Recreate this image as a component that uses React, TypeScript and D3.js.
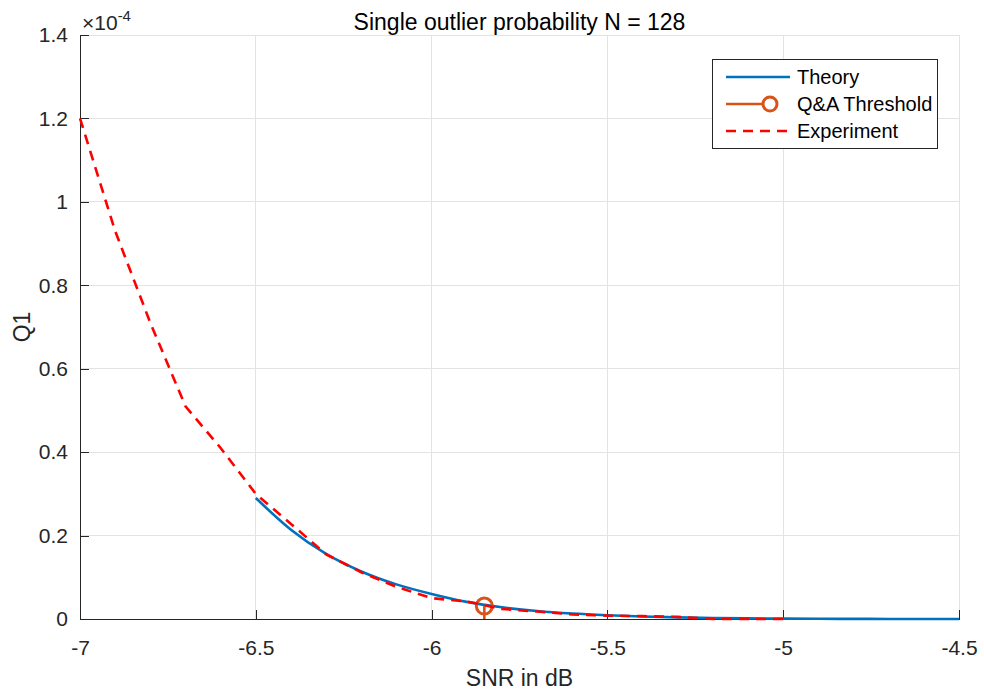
import React, { useRef, useEffect } from 'react';
import * as d3 from 'd3';

// SNR grid (dB) and Q1 values
const theorySnr = [-6.5, -6.4, -6.3, -6.2, -6.1, -6.0, -5.9, -5.8, -5.7, -5.6, -5.5, -5.4, -5.3, -5.2, -5.1, -5.0, -4.9, -4.8, -4.7, -4.6, -4.5];
const theoryQ1 = [0.290e-4, 0.214e-4, 0.156e-4, 0.114e-4, 0.083e-4, 0.060e-4, 0.041e-4, 0.028e-4, 0.019e-4, 0.013e-4, 0.009e-4, 0.006e-4, 0.004e-4, 0.0025e-4, 0.0015e-4, 0.0009e-4, 0.0005e-4, 0.0003e-4, 0.00015e-4, 0.0001e-4, 0.00005e-4];

const expSnr = [-7.0, -6.9, -6.8, -6.7, -6.6, -6.5, -6.4, -6.3, -6.2, -6.1, -6.0, -5.9, -5.8, -5.7, -5.6, -5.5, -5.4, -5.3, -5.2, -5.1, -5.0];
const expQ1 = [1.20e-4, 0.93e-4, 0.71e-4, 0.51e-4, 0.41e-4, 0.30e-4, 0.228e-4, 0.155e-4, 0.112e-4, 0.077e-4, 0.050e-4, 0.042e-4, 0.024e-4, 0.018e-4, 0.011e-4, 0.008e-4, 0.007e-4, 0.005e-4, 0.0e-4, 0.0e-4, 0.0e-4];

const thresholdSnr = [-5.85];
const thresholdQ1 = [0.031e-4];

const xTicks = [-7, -6.5, -6, -5.5, -5, -4.5];
const yTicks = [0, 0.2e-4, 0.4e-4, 0.6e-4, 0.8e-4, 1.0e-4, 1.2e-4, 1.4e-4];

const legendLabels = ['Theory', 'Q&A Threshold', 'Experiment'];

const BLUE = '#0072BD';
const ORANGE = '#D95319';
const RED = '#FF0000';
const AXIS = '#262626';
const FONT = '"Liberation Sans", Arial, Helvetica, sans-serif';

const W = 984;
const H = 691;

const App = () => {
    const svgRef = useRef<SVGSVGElement>(null);

    useEffect(() => {
        const svg = d3.select(svgRef.current);
        svg.selectAll('*').remove();

        const margin = { top: 35, right: 25, bottom: 72, left: 80 };
        const width = W - margin.left - margin.right;
        const height = H - margin.top - margin.bottom;

        const x = d3.scaleLinear().domain([-7, -4.5]).range([0, width]);
        const y = d3.scaleLinear().domain([0, 1.4e-4]).range([height, 0]);

        svg.append('rect').attr('width', W).attr('height', H).attr('fill', '#fff');

        const chart = svg.append('g').attr('transform', `translate(${margin.left},${margin.top})`);

        // grid
        chart.append('g')
            .selectAll('line')
            .data(xTicks)
            .join('line')
            .attr('x1', d => x(d)).attr('x2', d => x(d))
            .attr('y1', 0).attr('y2', height)
            .attr('stroke', '#e3e3e3')
            .attr('shape-rendering', 'crispEdges');
        chart.append('g')
            .selectAll('line')
            .data(yTicks)
            .join('line')
            .attr('x1', 0).attr('x2', width)
            .attr('y1', d => y(d)).attr('y2', d => y(d))
            .attr('stroke', '#e3e3e3')
            .attr('shape-rendering', 'crispEdges');

        // axes (ticks pointing inward)
        const xAxis = chart.append('g')
            .attr('transform', `translate(0,${height})`)
            .call(d3.axisBottom(x).tickValues(xTicks).tickFormat(d => String(d)).tickSizeInner(-9).tickSizeOuter(0).tickPadding(20));
        const yAxis = chart.append('g')
            .call(d3.axisLeft(y).tickValues(yTicks).tickFormat(d => String(+((d as number) * 1e4).toFixed(1))).tickSizeInner(-9).tickSizeOuter(0).tickPadding(20));
        [xAxis, yAxis].forEach(a => {
            a.select('.domain').attr('stroke', AXIS).attr('shape-rendering', 'crispEdges');
            a.selectAll('.tick line').attr('stroke', AXIS).attr('shape-rendering', 'crispEdges');
            a.selectAll('.tick text').attr('fill', AXIS).attr('font-size', '21px').attr('font-family', FONT);
        });
        yAxis.selectAll('.tick text').attr('dx', '8');
        xAxis.selectAll('.tick text').attr('dy', '0.75em');

        // exponent label
        const expo = svg.append('text')
            .attr('x', margin.left + 2)
            .attr('y', margin.top - 5)
            .attr('fill', AXIS)
            .attr('font-family', FONT)
            .attr('font-size', '21px');
        expo.append('tspan').text('\u00d710');
        expo.append('tspan').attr('dy', -9).attr('font-size', '15px').text('-4');

        // lines
        const theoryLine = d3.line<number>()
            .x((d, i) => x(theorySnr[i]))
            .y(d => y(d))
            .curve(d3.curveMonotoneX);
        chart.append('path')
            .datum(theoryQ1)
            .attr('d', theoryLine)
            .attr('fill', 'none')
            .attr('stroke', BLUE)
            .attr('stroke-width', 2.6);

        // threshold stem + circle
        thresholdSnr.forEach((s, i) => {
            chart.append('line')
                .attr('x1', x(s)).attr('x2', x(s))
                .attr('y1', y(0)).attr('y2', y(thresholdQ1[i]))
                .attr('stroke', ORANGE)
                .attr('stroke-width', 2.6);
            chart.append('circle')
                .attr('cx', x(s)).attr('cy', y(thresholdQ1[i]))
                .attr('r', 8)
                .attr('fill', 'none')
                .attr('stroke', ORANGE)
                .attr('stroke-width', 3);
        });

        const expLine = d3.line<number>()
            .x((d, i) => x(expSnr[i]))
            .y(d => y(d));
        chart.append('path')
            .datum(expQ1)
            .attr('d', expLine)
            .attr('fill', 'none')
            .attr('stroke', RED)
            .attr('stroke-width', 2.6)
            .attr('stroke-dasharray', '10,7');

        // title + labels
        svg.append('text')
            .attr('x', margin.left + width / 2)
            .attr('y', 30)
            .attr('text-anchor', 'middle')
            .attr('font-family', FONT)
            .attr('font-size', '23px')
            .attr('fill', '#000')
            .text('Single outlier probability N = 128');
        svg.append('text')
            .attr('x', margin.left + width / 2)
            .attr('y', 686)
            .attr('text-anchor', 'middle')
            .attr('font-family', FONT)
            .attr('font-size', '23px')
            .attr('fill', AXIS)
            .text('SNR in dB');
        svg.append('text')
            .attr('transform', `translate(30,${margin.top + height / 2}) rotate(-90)`)
            .attr('text-anchor', 'middle')
            .attr('font-family', FONT)
            .attr('font-size', '23px')
            .attr('fill', AXIS)
            .text('Q1');

        // legend
        const legend = svg.append('g').attr('transform', 'translate(712,59)');
        legend.append('rect')
            .attr('width', 225).attr('height', 89)
            .attr('fill', '#fff')
            .attr('stroke', AXIS)
            .attr('shape-rendering', 'crispEdges');
        const rows = [18, 45, 72];
        legend.append('line')
            .attr('x1', 14).attr('x2', 78).attr('y1', rows[0]).attr('y2', rows[0])
            .attr('stroke', BLUE).attr('stroke-width', 2.6);
        legend.append('line')
            .attr('x1', 14).attr('x2', 58).attr('y1', rows[1]).attr('y2', rows[1])
            .attr('stroke', ORANGE).attr('stroke-width', 2.6);
        legend.append('circle')
            .attr('cx', 58).attr('cy', rows[1]).attr('r', 7)
            .attr('fill', '#fff').attr('stroke', ORANGE).attr('stroke-width', 3);
        legend.append('line')
            .attr('x1', 14).attr('x2', 78).attr('y1', rows[2]).attr('y2', rows[2])
            .attr('stroke', RED).attr('stroke-width', 2.6).attr('stroke-dasharray', '10,7');
        legend.selectAll('text.lbl')
            .data(legendLabels)
            .join('text')
            .attr('class', 'lbl')
            .attr('x', 85)
            .attr('y', (d, i) => rows[i] + 7)
            .attr('font-family', FONT)
            .attr('font-size', '20px')
            .attr('fill', '#000')
            .text(d => d);
    }, []);

    return <svg ref={svgRef} width={W} height={H} style={{ position: 'absolute', left: 0, top: 0 }}></svg>;
};

export default App;
